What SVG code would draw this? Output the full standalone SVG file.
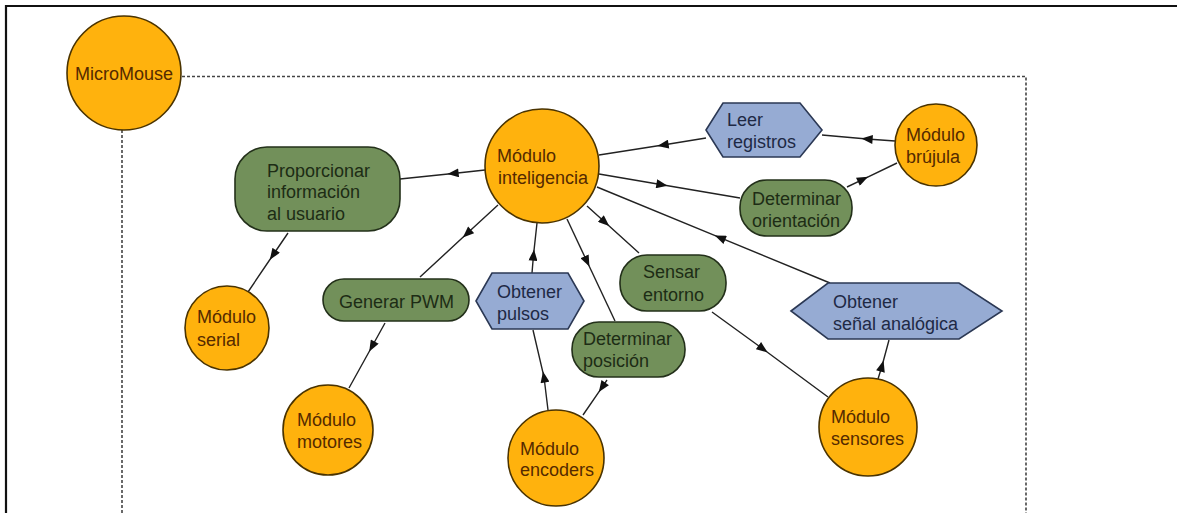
<svg xmlns="http://www.w3.org/2000/svg" width="1177" height="513" viewBox="0 0 1177 513">
  <style>
    .mod { fill: #ffb20d; stroke: #4a3300; stroke-width: 1.6; }
    .act { fill: #72905a; stroke: #23301a; stroke-width: 1.6; }
    .io { fill: #96abd3; stroke: #2b3854; stroke-width: 1.6; }
    text { font-family: "Liberation Sans", Arial, sans-serif; font-size: 18px; }
    .tmod { fill: #552a00; }
    .tact { fill: #1d2c15; }
    .tio { fill: #1e2945; }
    .edge { fill: none; stroke: #222; stroke-width: 1.4; marker-mid: url(#arrow); }
    .frame { fill: none; stroke: #111; stroke-width: 2.2; }
    .dash { fill: none; stroke: #444; stroke-width: 1.6; stroke-dasharray: 3 2; }
  </style>
  <defs>
    <marker id="arrow" viewBox="0 0 10 8" refX="5" refY="4" markerWidth="12" markerHeight="9" markerUnits="userSpaceOnUse" orient="auto">
      <path d="M0,0 L10,4 L0,8 z" fill="#111"/>
    </marker>
  </defs>

  <rect width="1177" height="513" fill="#fff"/>

  <!-- outer frame -->
  <path class="frame" d="M6,513 V6 H1177"/>

  <!-- MicroMouse scope -->
  <g id="scope">
    <path class="dash" d="M182,76.5 H1026 V513"/>
    <path class="dash" d="M122,130 V513"/>
  </g>

  <!-- connectors -->
  <g id="connectors">
    <path class="edge" d="M485,170 L453,173.5 L400,179"/>
    <path class="edge" d="M706,138 L663,145 L599,155"/>
    <path class="edge" d="M895,141 L867,139 L822,135"/>
    <path class="edge" d="M847,187 L863,179.3 L897,163"/>
    <path class="edge" d="M599,174 L662,184.7 L740,198"/>
    <path class="edge" d="M830,283 L720,237.7 L597,187"/>
    <path class="edge" d="M878,379 L882,366 L889,340"/>
    <path class="edge" d="M587,206 L605,222.3 L639,253"/>
    <path class="edge" d="M712,312 L763,349 L828,397"/>
    <path class="edge" d="M567,219 L587,261.5 L615,321"/>
    <path class="edge" d="M607,380 L602,387.3 L583,415"/>
    <path class="edge" d="M532,273 L533.5,255 L537,223"/>
    <path class="edge" d="M548,410 L544,377 L533,330"/>
    <path class="edge" d="M498,205 L467,233.6 L420,277"/>
    <path class="edge" d="M385,323 L372,346.5 L349,388"/>
    <path class="edge" d="M288,233 L273,255 L248,292"/>
  </g>

  <g id="micromouse">
    <circle class="mod" cx="124" cy="73" r="57"/>
    <text class="tmod" x="75" y="80">MicroMouse</text>
  </g>

  <g id="modulo-inteligencia">
    <circle class="mod" cx="542" cy="166" r="57"/>
    <text class="tmod" x="497" y="162">Módulo</text>
    <text class="tmod" x="498" y="184">inteligencia</text>
  </g>

  <g id="proporcionar-informacion">
    <rect class="act" x="235" y="147" width="165" height="84" rx="32"/>
    <text class="tact" x="267" y="177">Proporcionar</text>
    <text class="tact" x="267" y="198">información</text>
    <text class="tact" x="267" y="220">al usuario</text>
  </g>

  <g id="leer-registros">
    <polygon class="io" points="706,130 723,103 800,103 822,130 800,157 723,157"/>
    <text class="tio" x="727" y="126">Leer</text>
    <text class="tio" x="727" y="148">registros</text>
  </g>

  <g id="modulo-brujula">
    <circle class="mod" cx="936" cy="145" r="41"/>
    <text class="tmod" x="906" y="141">Módulo</text>
    <text class="tmod" x="906" y="163">brújula</text>
  </g>

  <g id="determinar-orientacion">
    <rect class="act" x="740" y="180" width="112" height="56" rx="27"/>
    <text class="tact" x="752" y="205">Determinar</text>
    <text class="tact" x="752" y="227">orientación</text>
  </g>

  <g id="modulo-serial">
    <circle class="mod" cx="227" cy="328" r="42"/>
    <text class="tmod" x="197" y="323">Módulo</text>
    <text class="tmod" x="197" y="346">serial</text>
  </g>

  <g id="generar-pwm">
    <rect class="act" x="323" y="279" width="146" height="42" rx="21"/>
    <text class="tact" x="339" y="308">Generar PWM</text>
  </g>

  <g id="obtener-pulsos">
    <polygon class="io" points="476,301 492,273 568,273 584,301 568,329 492,329"/>
    <text class="tio" x="497" y="298">Obtener</text>
    <text class="tio" x="497" y="320">pulsos</text>
  </g>

  <g id="modulo-motores">
    <circle class="mod" cx="328" cy="430" r="45"/>
    <text class="tmod" x="297" y="426">Módulo</text>
    <text class="tmod" x="297" y="448">motores</text>
  </g>

  <g id="modulo-encoders">
    <circle class="mod" cx="556" cy="458" r="48"/>
    <text class="tmod" x="520" y="455">Módulo</text>
    <text class="tmod" x="520" y="476">encoders</text>
  </g>

  <g id="determinar-posicion">
    <rect class="act" x="572" y="322" width="113" height="55" rx="27"/>
    <text class="tact" x="583" y="345">Determinar</text>
    <text class="tact" x="583" y="367">posición</text>
  </g>

  <g id="sensar-entorno">
    <rect class="act" x="620" y="255" width="106" height="56" rx="27"/>
    <text class="tact" x="643" y="278">Sensar</text>
    <text class="tact" x="643" y="301">entorno</text>
  </g>

  <g id="obtener-senal">
    <polygon class="io" points="791,311 828,283 959,283 1002,311 959,339 828,339"/>
    <text class="tio" x="833" y="308">Obtener</text>
    <text class="tio" x="833" y="330">señal analógica</text>
  </g>

  <g id="modulo-sensores">
    <circle class="mod" cx="868" cy="427" r="49"/>
    <text class="tmod" x="831" y="423">Módulo</text>
    <text class="tmod" x="831" y="445">sensores</text>
  </g>
</svg>
